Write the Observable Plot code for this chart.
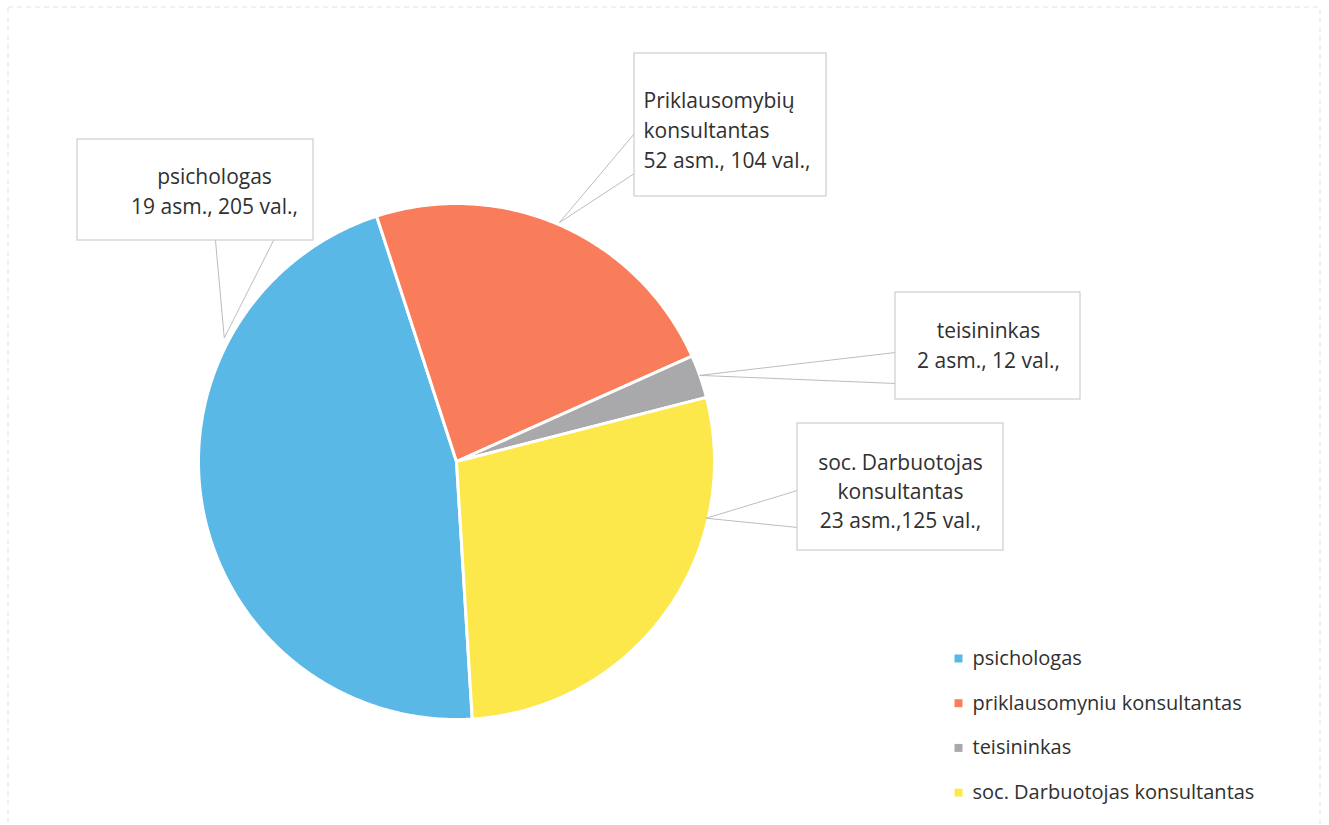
<!DOCTYPE html>
<html><head><meta charset="utf-8">
<script src="https://cdn.jsdelivr.net/npm/d3@7"></script>
<script src="https://cdn.jsdelivr.net/npm/@observablehq/plot@0.6"></script>
<style>body{margin:0;background:#fff}</style>
</head><body><div id="chart"></div>
<script>
// ---- data ----
const categories = ["psichologas", "priklausomyniu konsultantas", "teisininkas", "soc. Darbuotojas konsultantas"];
const persons = [19, 52, 2, 23];
const hours = [205, 104, 12, 125];
const calloutLabels = [
  "psichologas\n19 asm., 205 val.,",
  "Priklausomybių\nkonsultantas\n52 asm., 104 val.,",
  "teisininkas\n2 asm., 12 val.,",
  "soc. Darbuotojas\nkonsultantas\n23 asm.,125 val.,"
];
const colors = ["#5ab8e6", "#fa7d5b", "#a9a9ac", "#fde84c"];

// ---- layout ----
const W = 1329, H = 825;
const pie = {cx: 456, cy: 461, r: 258, startDeg: 176.5};
const callouts = [
  {box: [77, 139, 313, 240], tx: 214, ty: 189, anchor: "middle", ang: 298, dist: 263, leg: [[215, 240], [273, 240]]},
  {box: [634, 53, 826, 196], tx: 643, ty: 128, anchor: "start", ang: 23.3, dist: 260, leg: [[634, 133], [634, 173]]},
  {box: [895, 292, 1080, 399], tx: 988, ty: 343, anchor: "middle", ang: 70.5, dist: 258, leg: [[895, 352], [895, 383]]},
  {box: [797, 423, 1003, 550], tx: 900, ty: 489, anchor: "middle", ang: 102.8, dist: 256, leg: [[797, 490], [797, 527]]}
];
const legendLayout = {x: 958, tx: 972, y0: 658, dy: 44.7};
const font = "Open Sans";
const textColor = "#303030";

// ---- geometry derived from values ----
const toRad = d => d * Math.PI / 180;
const pt = (a, rr) => [pie.cx + rr * Math.sin(a), pie.cy - rr * Math.cos(a)];
const arcs = d3.pie().sort(null)
  .startAngle(toRad(pie.startDeg)).endAngle(toRad(pie.startDeg) + 2 * Math.PI)(hours);

const slicePts = [];
arcs.forEach((a, i) => {
  slicePts.push({name: categories[i], x: pie.cx, y: pie.cy});
  const n = Math.max(4, Math.ceil((a.endAngle - a.startAngle) / 0.01));
  for (let k = 0; k <= n; k++) {
    const t = a.startAngle + (a.endAngle - a.startAngle) * k / n;
    const [x, y] = pt(t, pie.r);
    slicePts.push({name: categories[i], x, y});
  }
});

const leaderPts = [];
callouts.forEach((c, i) => {
  const [ax, ay] = pt(toRad(c.ang), c.dist);
  leaderPts.push({id: i, x: c.leg[0][0], y: c.leg[0][1]});
  leaderPts.push({id: i, x: ax, y: ay});
  leaderPts.push({id: i, x: c.leg[1][0], y: c.leg[1][1]});
});

const boxes = callouts.map((c, i) => ({id: i, x1: c.box[0], y1: c.box[1], x2: c.box[2], y2: c.box[3]}));
const labels = callouts.map((c, i) => ({text: calloutLabels[i], x: c.tx, y: c.ty, anchor: c.anchor}));
const legend = categories.map((name, i) => ({name, y: legendLayout.y0 + i * legendLayout.dy}));

const chart = Plot.plot({
  width: W, height: H, margin: 0,
  x: {domain: [0, W], range: [0, W], axis: null},
  y: {domain: [0, H], range: [0, H], axis: null},
  color: {domain: categories, range: colors},
  style: {fontFamily: font, background: "#fff"},
  marks: [
    Plot.rect([{x1: 8, x2: 1320, y1: 7, y2: 840}], {x1: "x1", x2: "x2", y1: "y1", y2: "y2", fill: "none", stroke: "#e2e2e2", strokeDasharray: "5,4"}),
    Plot.line(slicePts, {x: "x", y: "y", z: "name", fill: "name", stroke: "white", strokeWidth: 3, curve: "linear-closed", strokeLinejoin: "round"}),
    Plot.line(leaderPts, {x: "x", y: "y", z: "id", stroke: "#bdbdbd", strokeWidth: 1}),
    Plot.rect(boxes, {x1: "x1", x2: "x2", y1: "y1", y2: "y2", fill: "white", stroke: "#c4c4c4", strokeWidth: 1}),
    Plot.text(labels.filter(d => d.anchor === "middle"), {x: "x", y: "y", text: "text", textAnchor: "middle", lineAnchor: "middle", lineHeight: 1.4, fontSize: 21, fill: textColor}),
    Plot.text(labels.filter(d => d.anchor === "start"), {x: "x", y: "y", text: "text", textAnchor: "start", lineAnchor: "middle", lineHeight: 1.42, fontSize: 21, fill: textColor}),
    Plot.dot(legend, {x: legendLayout.x, y: "y", symbol: "square", r: 4.5, fill: "name"}),
    Plot.text(legend, {x: legendLayout.tx, y: "y", text: "name", textAnchor: "start", fontSize: 20, fill: textColor})
  ]
});
document.getElementById("chart").appendChild(chart);
</script>
</body></html>
